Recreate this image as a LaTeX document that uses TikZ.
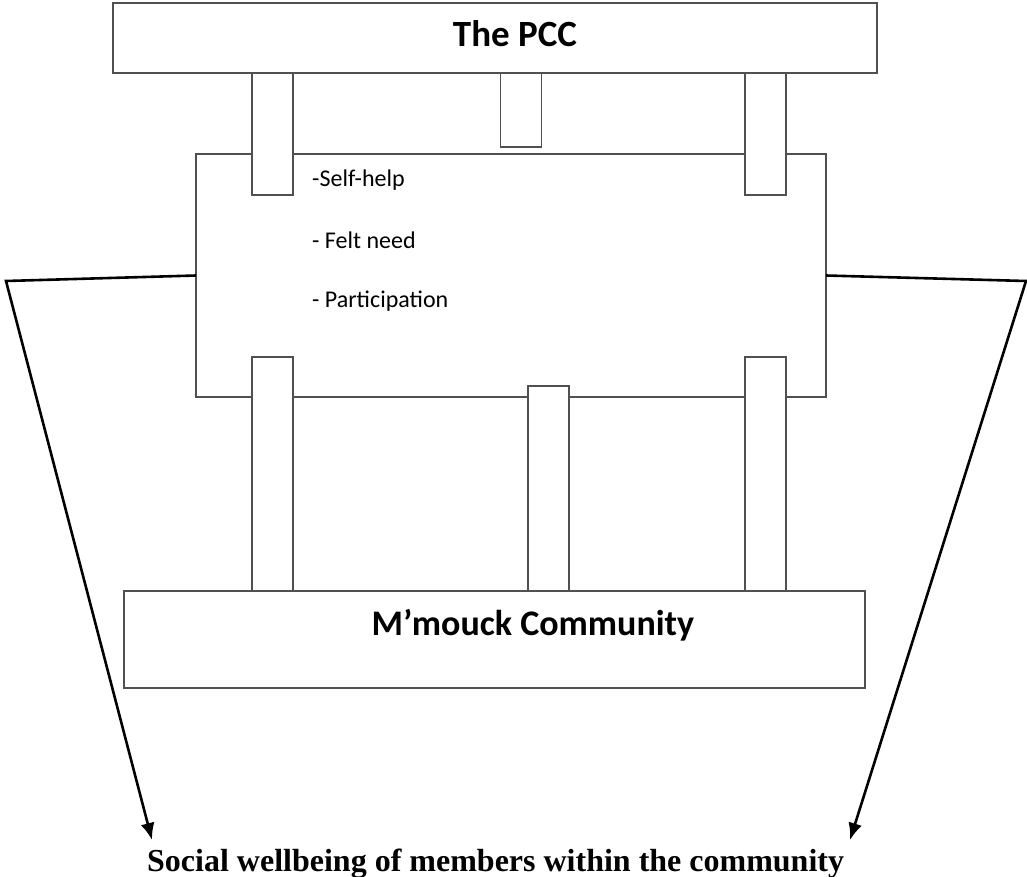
\documentclass[tikz,border=0pt]{standalone}
\usepackage{fontspec}
\setmainfont{Liberation Serif}
\newfontfamily\calib{Carlito}
\usetikzlibrary{arrows.meta}
\definecolor{boxline}{HTML}{505050}
\tikzset{
  boxnode/.style={draw=boxline, line width=1.6pt, fill=white, rectangle, inner sep=0pt, outer sep=0pt},
  pillar/.style={boxnode, minimum width=41pt},
  bigtext/.style={font=\calib\bfseries\fontsize{37}{42}\selectfont, inner sep=0pt, anchor=base},
  itemtext/.style={font=\calib\fontsize{24}{28}\selectfont, inner sep=0pt, anchor=base west},
  outline/.style={draw=black, line width=2.6pt, -{Latex[length=17pt,width=14pt]}}
}
\begin{document}
\begin{tikzpicture}[x=1pt,y=-1pt]
\useasboundingbox (0,0) rectangle (1027,877);
% boxes
\node[boxnode, minimum width=764pt, minimum height=70pt] (pcc) at (495,38) {};
\node[boxnode, minimum width=630pt, minimum height=243pt] (mid) at (511,275.5) {};
\node[boxnode, minimum width=741pt, minimum height=97pt] (comm) at (494.5,639.5) {};
% pillars
\node[pillar, minimum height=122pt] (tp1) at (272.5,134) {};
\node[pillar, minimum height=74pt] (tp2) at (521,110) {};
\node[pillar, minimum height=122pt] (tp3) at (765.5,134) {};
\node[pillar, minimum height=234pt] (bp1) at (272.5,474) {};
\node[pillar, minimum height=205pt] (bp2) at (548.5,488.5) {};
\node[pillar, minimum height=234pt] (bp3) at (765.5,474) {};
% texts
\node[bigtext] (pcctext) at (515,47) {The PCC};
\node[bigtext, font=\calib\bfseries\fontsize{36}{41}\selectfont] (commtext) at (533,635) {M’mouck Community};
\node[itemtext] (i1) at (312,187) {-Self-help};
\node[itemtext] (i2) at (312,248) {- Felt need};
\node[itemtext] (i3) at (312,307) {- Participation};
\node[font=\bfseries\fontsize{32}{36}\selectfont, inner sep=0pt, anchor=base west] (goal) at (147,871) {Social wellbeing of members within the community};
% connectors
\coordinate (lc) at (6,281);
\coordinate (rc) at (1026,281);
\coordinate (lt) at (152,840);
\coordinate (rt) at (850,840);
\draw[outline] (mid.west) -- (lc) -- (lt);
\draw[outline] (mid.east) -- (rc) -- (rt);
\end{tikzpicture}
\end{document}
